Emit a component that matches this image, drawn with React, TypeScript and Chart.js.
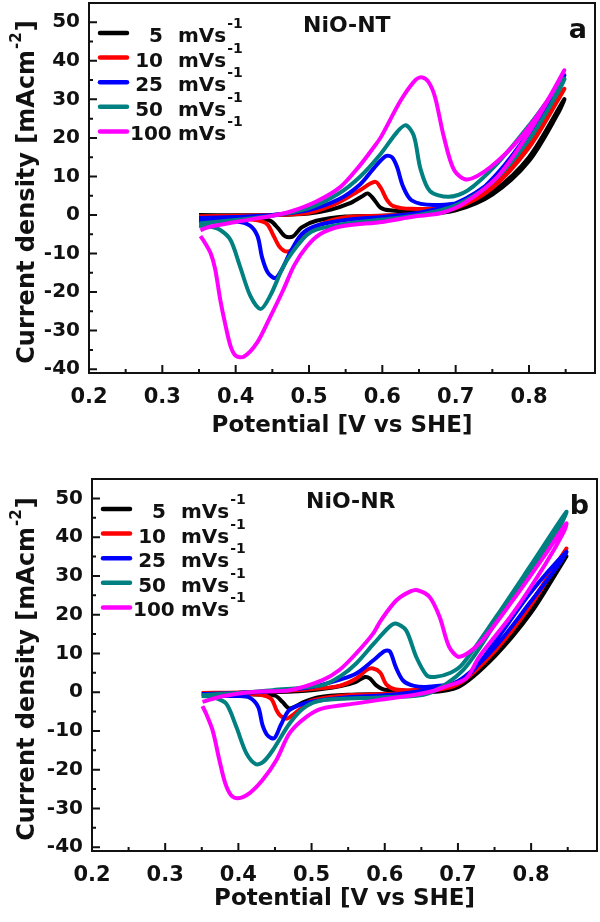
import React, { useEffect, useRef } from "react";
import { Chart, registerables } from "chart.js";

Chart.register(...registerables);

// ---------- shared labels / ticks ----------
const scanRates = ["5", "10", "25", "50", "100"];
const seriesColors = ["#000000", "#ff0000", "#0000ff", "#008080", "#ff00ff"];
const xMajorTicks = [0.2, 0.3, 0.4, 0.5, 0.6, 0.7, 0.8];
const xMinorTicks = [0.25, 0.35, 0.45, 0.55, 0.65, 0.75, 0.85];
const yMajorTicks = [-40, -30, -20, -10, 0, 10, 20, 30, 40, 50];
const yMinorTicks = [-35, -25, -15, -5, 5, 15, 25, 35, 45];
const xTitle = "Potential [V vs SHE]";
const yTitleMain = "Current density [mAcm";
const yTitleSup = "-2";
const yTitleEnd = "]";

// ---------- panel a : NiO-NT ----------
const ntV5 = [0.35, 0.40, 0.45, 0.50, 0.53, 0.555, 0.572, 0.58, 0.588, 0.597, 0.61, 0.65, 0.70, 0.75, 0.80, 0.848,
  0.84, 0.80, 0.75, 0.70, 0.65, 0.60, 0.55, 0.51, 0.49, 0.478, 0.468, 0.458, 0.448, 0.43, 0.40, 0.35];
const ntI5 = [0.0, -0.1, 0.0, 0.4, 1.4, 3.0, 4.8, 5.6, 4.2, 2.0, 1.2, 0.8, 1.6, 6.0, 15.0, 30.0,
  26.5, 14.0, 5.3, 1.2, 0.1, -0.2, -0.4, -1.5, -3.2, -5.6, -5.6, -3.5, -1.6, -0.8, -0.5, -0.5];

const ntV10 = [0.35, 0.40, 0.45, 0.50, 0.54, 0.57, 0.59, 0.598, 0.606, 0.615, 0.64, 0.70, 0.75, 0.80, 0.848,
  0.84, 0.80, 0.75, 0.70, 0.65, 0.60, 0.55, 0.515, 0.495, 0.48, 0.47, 0.46, 0.452, 0.443, 0.43, 0.40, 0.35];
const ntI10 = [-0.3, -0.2, 0.0, 0.6, 3.2, 6.5, 8.6, 7.0, 4.0, 2.3, 1.6, 2.2, 7.5, 18.8, 32.7,
  30.0, 17.5, 7.0, 1.8, 0.3, -0.2, -0.6, -2.5, -5.2, -8.5, -9.5, -8.3, -5.5, -2.4, -1.4, -0.9, -0.7];

const ntV25 = [0.35, 0.40, 0.45, 0.50, 0.54, 0.57, 0.59, 0.605, 0.613, 0.62, 0.628, 0.64, 0.67, 0.716, 0.757, 0.80, 0.848,
  0.84, 0.80, 0.75, 0.70, 0.65, 0.60, 0.55, 0.51, 0.49, 0.475, 0.462, 0.454, 0.444, 0.436, 0.43, 0.42, 0.40, 0.35];
const ntI25 = [-0.8, -0.5, 0.0, 1.3, 4.0, 8.0, 12.5, 15.3, 15.0, 12.5, 7.5, 3.8, 2.6, 3.9, 10.8, 21.5, 36.2,
  33.5, 20.0, 9.0, 3.0, 0.6, -0.5, -1.3, -2.8, -5.0, -9.5, -14.5, -16.4, -15.0, -11.0, -5.6, -2.8, -1.6, -1.3];

const ntV50 = [0.35, 0.40, 0.45, 0.50, 0.54, 0.57, 0.598, 0.62, 0.632, 0.643, 0.652, 0.665, 0.69, 0.716, 0.757, 0.802, 0.848,
  0.84, 0.80, 0.75, 0.70, 0.65, 0.60, 0.55, 0.51, 0.497, 0.48, 0.465, 0.447, 0.434, 0.42, 0.406, 0.393, 0.379, 0.365, 0.35];
const ntI50 = [-2.2, -1.3, -0.2, 1.8, 5.5, 10.0, 15.9, 21.5, 23.3, 20.5, 12.0, 6.2, 4.7, 6.3, 13.4, 23.7, 35.3,
  32.0, 19.5, 8.5, 2.5, 0.0, -1.2, -2.3, -3.8, -5.2, -9.0, -13.4, -21.0, -24.4, -21.0, -13.4, -6.5, -3.9, -3.0, -2.8];

const ntV100 = [0.352, 0.36, 0.40, 0.45, 0.475, 0.51, 0.543, 0.57, 0.588, 0.598, 0.625, 0.645, 0.654, 0.663, 0.672, 0.684, 0.698, 0.716, 0.748, 0.789, 0.825, 0.848,
  0.84, 0.802, 0.757, 0.711, 0.68, 0.643, 0.60, 0.543, 0.515, 0.497, 0.48, 0.465, 0.447, 0.429, 0.411, 0.40, 0.393, 0.386, 0.379, 0.372, 0.366, 0.358, 0.352];
const ntI100 = [-4.0, -3.3, -1.8, -0.2, 0.9, 3.5, 7.3, 13.0, 17.5, 20.2, 29.7, 35.0, 35.7, 34.5, 30.5, 20.2, 11.6, 9.2, 12.5, 20.2, 29.7, 37.5,
  34.5, 22.0, 9.9, 3.0, 0.5, -0.4, -1.8, -3.0, -5.0, -8.2, -13.0, -19.4, -26.5, -33.2, -36.8, -36.5, -34.0, -28.5, -22.0, -14.0, -10.0, -7.2, -5.5];

// ---------- panel b : NiO-NR ----------
const nrV5 = [0.35, 0.40, 0.45, 0.50, 0.54, 0.56, 0.573, 0.58, 0.588, 0.60, 0.65, 0.70, 0.75, 0.80, 0.848,
  0.84, 0.80, 0.75, 0.70, 0.65, 0.60, 0.55, 0.51, 0.49, 0.47, 0.46, 0.45, 0.40, 0.35];
const nrI5 = [-0.3, -0.2, 0.0, 0.5, 1.6, 2.6, 3.9, 3.5, 1.8, 0.6, 0.4, 2.0, 10.0, 21.5, 35.0,
  32.5, 20.5, 9.2, 1.3, -0.2, -0.5, -0.7, -1.3, -2.5, -4.2, -2.5, -0.9, -0.5, -0.5];

const nrV10 = [0.35, 0.40, 0.45, 0.50, 0.538, 0.561, 0.576, 0.584, 0.594, 0.602, 0.615, 0.65, 0.70, 0.75, 0.80, 0.848,
  0.84, 0.80, 0.75, 0.70, 0.65, 0.60, 0.55, 0.50, 0.483, 0.467, 0.458, 0.452, 0.445, 0.43, 0.40, 0.35];
const nrI10 = [-0.2, -0.1, 0.2, 0.8, 1.6, 3.5, 5.8, 6.1, 5.0, 2.0, 0.7, 0.7, 2.5, 11.0, 23.2, 37.0,
  34.5, 22.5, 10.5, 2.0, 0.0, -0.5, -0.8, -2.2, -4.6, -6.8, -6.2, -4.6, -1.8, -0.7, -0.5, -0.5];

const nrV25 = [0.35, 0.40, 0.45, 0.50, 0.54, 0.561, 0.585, 0.60, 0.607, 0.615, 0.625, 0.64, 0.66, 0.707, 0.752, 0.798, 0.848,
  0.84, 0.80, 0.75, 0.70, 0.65, 0.60, 0.55, 0.50, 0.47, 0.458, 0.449, 0.44, 0.433, 0.427, 0.415, 0.40, 0.35];
const nrI25 = [-0.5, -0.2, 0.3, 1.3, 3.3, 4.8, 8.3, 10.6, 10.5, 6.5, 3.0, 1.6, 1.4, 3.1, 13.4, 25.4, 36.2,
  33.5, 23.5, 11.5, 2.8, 0.3, -0.8, -1.3, -2.5, -4.6, -8.5, -11.9, -11.2, -8.5, -3.8, -1.4, -1.0, -0.9];

const nrV50 = [0.35, 0.40, 0.447, 0.515, 0.54, 0.561, 0.585, 0.606, 0.615, 0.629, 0.643, 0.657, 0.668, 0.69, 0.707, 0.752, 0.798, 0.848,
  0.84, 0.798, 0.752, 0.707, 0.66, 0.60, 0.515, 0.49, 0.47, 0.447, 0.434, 0.424, 0.411, 0.397, 0.383, 0.365, 0.35];
const nrI50 = [-0.8, -0.2, 0.5, 1.8, 4.2, 7.4, 12.5, 16.8, 17.7, 16.0, 9.1, 4.4, 3.9, 5.0, 7.4, 19.4, 32.3, 46.5,
  43.0, 31.0, 18.0, 5.7, -0.3, -1.3, -2.1, -4.0, -8.1, -15.0, -18.0, -18.6, -15.8, -8.9, -2.9, -1.3, -1.0];

const nrV100 = [0.351, 0.38, 0.424, 0.47, 0.515, 0.538, 0.561, 0.584, 0.595, 0.616, 0.635, 0.645, 0.661, 0.675, 0.688, 0.702, 0.729, 0.775, 0.82, 0.848,
  0.845, 0.82, 0.775, 0.729, 0.711, 0.684, 0.666, 0.638, 0.593, 0.561, 0.515, 0.493, 0.47, 0.452, 0.433, 0.415, 0.399, 0.39, 0.382, 0.374, 0.365, 0.356, 0.351];
const nrI100 = [-2.5, -1.0, 0.1, 0.5, 3.1, 5.7, 10.0, 15.1, 18.6, 23.7, 26.0, 26.3, 24.6, 19.4, 11.7, 9.1, 12.5, 23.7, 35.7, 43.5,
  41.5, 33.2, 20.3, 9.1, 3.5, 1.5, 0.3, -0.8, -2.0, -2.9, -4.2, -6.4, -10.6, -17.5, -22.7, -26.1, -27.4, -26.6, -23.5, -17.5, -10.0, -5.6, -3.6];

const ntSeries = [[ntV5, ntI5], [ntV10, ntI10], [ntV25, ntI25], [ntV50, ntI50], [ntV100, ntI100]];
const nrSeries = [[nrV5, nrI5], [nrV10, nrI10], [nrV25, nrI25], [nrV50, nrI50], [nrV100, nrI100]];

const FONT = '"DejaVu Sans", "Liberation Sans", Arial, sans-serif';
const INK = "#111111";

const decorPlugin = {
  id: "cvDecor",
  afterDraw(chart: any, _args: any, opts: any) {
    const { ctx, chartArea: a, scales } = chart;
    const xs = scales.x;
    const ys = scales.y;
    ctx.save();
    // frame
    ctx.strokeStyle = INK;
    ctx.lineWidth = 2;
    ctx.strokeRect(a.left, a.top, a.right - a.left, a.bottom - a.top);
    // inward ticks
    ctx.beginPath();
    xMajorTicks.forEach((v) => {
      const p = xs.getPixelForValue(v);
      ctx.moveTo(p, a.bottom);
      ctx.lineTo(p, a.bottom - 8);
    });
    xMinorTicks.forEach((v) => {
      const p = xs.getPixelForValue(v);
      ctx.moveTo(p, a.bottom);
      ctx.lineTo(p, a.bottom - 4);
    });
    yMajorTicks.forEach((v) => {
      const p = ys.getPixelForValue(v);
      ctx.moveTo(a.left, p);
      ctx.lineTo(a.left + 8, p);
    });
    yMinorTicks.forEach((v) => {
      const p = ys.getPixelForValue(v);
      ctx.moveTo(a.left, p);
      ctx.lineTo(a.left + 4, p);
    });
    ctx.stroke();

    // legend
    const L = a.left;
    const T = a.top;
    scanRates.forEach((r, i) => {
      const base = T + 39 + i * 24.6;
      ctx.strokeStyle = seriesColors[i];
      ctx.lineWidth = 4.5;
      ctx.lineCap = "round";
      ctx.beginPath();
      ctx.moveTo(L + 11, base - 9);
      ctx.lineTo(L + 38, base - 9);
      ctx.stroke();
      ctx.fillStyle = INK;
      ctx.font = `bold 20px ${FONT}`;
      ctx.textBaseline = "alphabetic";
      if (r.length >= 3) {
        ctx.textAlign = "left";
        ctx.fillText(r, L + 41, base);
      } else {
        ctx.textAlign = "right";
        ctx.fillText(r, L + 74, base);
      }
      ctx.textAlign = "left";
      ctx.fillText("mVs", L + 89, base);
      const w = ctx.measureText("mVs").width;
      ctx.font = `bold 14px ${FONT}`;
      ctx.fillText("-1", L + 89 + w + 1, base - 14);
    });

    // sample name and panel letter
    ctx.fillStyle = INK;
    ctx.font = `bold 22px ${FONT}`;
    ctx.textAlign = "left";
    ctx.fillText(opts.name, L + 214, T + 28.5);
    ctx.font = `bold 27px ${FONT}`;
    ctx.textAlign = "right";
    ctx.fillText(opts.letter, a.right - 8, T + 35);

    // y axis title (rotated, with superscript)
    const cx = 34;
    const cy = (a.top + a.bottom) / 2 + 4;
    ctx.translate(cx, cy);
    ctx.rotate(-Math.PI / 2);
    ctx.textAlign = "left";
    ctx.font = `bold 24px ${FONT}`;
    const w1 = ctx.measureText(yTitleMain).width;
    const w3 = ctx.measureText(yTitleEnd).width;
    ctx.font = `bold 15px ${FONT}`;
    const w2 = ctx.measureText(yTitleSup).width;
    const total = w1 + w2 + w3 + 2;
    let sx = -total / 2;
    ctx.font = `bold 24px ${FONT}`;
    ctx.fillText(yTitleMain, sx, 0);
    sx += w1 + 1;
    ctx.font = `bold 15px ${FONT}`;
    ctx.fillText(yTitleSup, sx, -13);
    sx += w2 + 1;
    ctx.font = `bold 24px ${FONT}`;
    ctx.fillText(yTitleEnd, sx, 0);
    ctx.restore();
  },
};

type PanelProps = {
  series: number[][][];
  name: string;
  letter: string;
  top: number;
  height: number;
  padTop: number;
  padRight: number;
  yWidth: number;
  xHeight: number;
  titlePad: number;
};

function CVPanel(p: PanelProps) {
  const ref = useRef<HTMLCanvasElement | null>(null);
  useEffect(() => {
    if (!ref.current) return;
    const datasets = p.series.map(([v, c], i) => ({
      label: `${scanRates[i]} mVs-1`,
      data: v.map((x, k) => ({ x, y: c[k] })),
      borderColor: seriesColors[i],
      backgroundColor: seriesColors[i],
      borderWidth: 4,
      pointRadius: 0,
      showLine: true,
      fill: false,
      tension: 0.3,
      order: 5 - i,
    }));
    const chart = new Chart(ref.current, {
      type: "scatter",
      data: { datasets },
      plugins: [decorPlugin],
      options: {
        responsive: false,
        animation: false,
        events: [],
        layout: { padding: { top: p.padTop, right: p.padRight, left: 0, bottom: 0 } },
        plugins: {
          legend: { display: false },
          tooltip: { enabled: false },
          cvDecor: { name: p.name, letter: p.letter },
        } as any,
        scales: {
          x: {
            type: "linear",
            min: 0.2,
            max: 0.89,
            grid: { display: false, drawTicks: false },
            border: { display: false },
            afterBuildTicks: (s: any) => {
              s.ticks = xMajorTicks.map((v) => ({ value: v }));
            },
            afterFit: (s: any) => {
              s.height = p.xHeight;
              s.paddingLeft = 0;
              s.paddingRight = 0;
            },
            ticks: {
              padding: 11.5,
              color: INK,
              font: { family: FONT, size: 21, weight: "bold" },
              callback: (v: any) => Number(v).toFixed(1),
              maxRotation: 0,
              autoSkip: false,
            },
            title: {
              display: true,
              text: xTitle,
              color: INK,
              font: { family: FONT, size: 23, weight: "bold" },
              padding: { top: 0, bottom: p.titlePad },
            },
          },
          y: {
            type: "linear",
            min: -41,
            max: 55,
            grid: { display: false, drawTicks: false },
            border: { display: false },
            afterBuildTicks: (s: any) => {
              s.ticks = yMajorTicks.map((v) => ({ value: v }));
            },
            afterFit: (s: any) => {
              s.width = p.yWidth;
              s.paddingTop = 0;
              s.paddingBottom = 0;
            },
            ticks: {
              padding: 9,
              color: INK,
              font: { family: FONT, size: 20, weight: "bold" },
              callback: (v: any) => String(v),
              autoSkip: false,
            },
          },
        },
      } as any,
    });
    return () => chart.destroy();
  }, []);
  return (
    <canvas
      ref={ref}
      width={600}
      height={p.height}
      style={{ position: "absolute", left: 0, top: p.top, width: 600, height: p.height, display: "block" }}
    />
  );
}

export default function App() {
  return (
    <div style={{ position: "absolute", left: 0, top: 0, width: 600, height: 922, background: "#ffffff" }}>
      <CVPanel series={ntSeries} name="NiO-NT" letter="a" top={0} height={460}
        padTop={3} padRight={5} yWidth={89} xHeight={87} titlePad={20} />
      <CVPanel series={nrSeries} name="NiO-NR" letter="b" top={460} height={462}
        padTop={19} padRight={3} yWidth={92} xHeight={71} titlePad={9} />
    </div>
  );
}
